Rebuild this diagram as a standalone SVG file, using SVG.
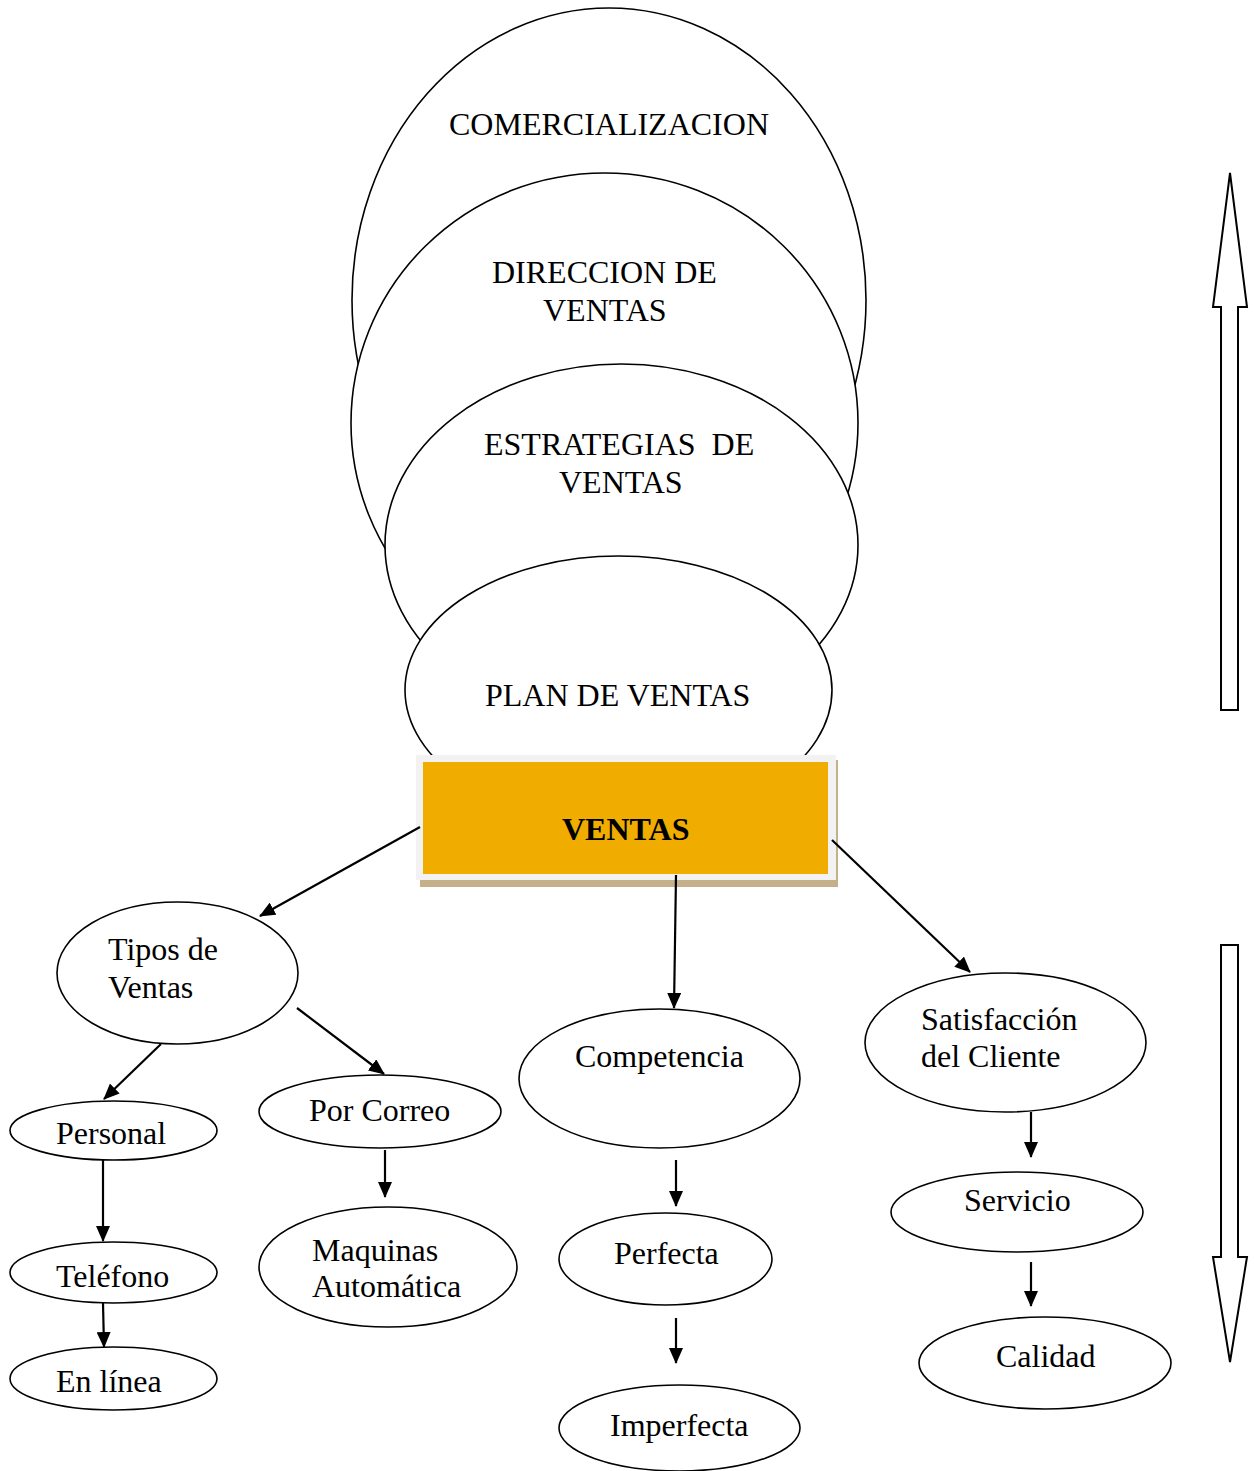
<svg xmlns="http://www.w3.org/2000/svg" width="1254" height="1471" viewBox="0 0 1254 1471">
<style>
.e{fill:#fff;stroke:#000;stroke-width:1.6}
.t{font-family:"Liberation Serif","Times New Roman",serif;font-size:32px;fill:#000}
.u{font-size:32px}
.c{stroke:#000;stroke-width:2.2;fill:none;marker-end:url(#ah)}
.big{fill:#fff;stroke:#000;stroke-width:2}
</style>
<defs>
<marker id="ah" markerUnits="userSpaceOnUse" markerWidth="16" markerHeight="14" refX="15" refY="7" orient="auto">
<path d="M0,0 L16,7 L0,14 Z" fill="#000"/>
</marker>
</defs>
<rect width="1254" height="1471" fill="#fff"/>
<g id="comercializacion">
<ellipse class="e" cx="609" cy="300" rx="257" ry="292"/>
<text class="t u" x="449" y="135">COMERCIALIZACION</text>
</g>
<g id="direccion">
<ellipse class="e" cx="604.5" cy="423" rx="253.5" ry="250"/>
<text class="t u" x="492" y="283">DIRECCION DE</text>
<text class="t u" x="543" y="321">VENTAS</text>
</g>
<g id="estrategias">
<ellipse class="e" cx="621.5" cy="545" rx="236.5" ry="181"/>
<text class="t u" x="484" y="455" xml:space="preserve">ESTRATEGIAS  DE</text>
<text class="t u" x="559" y="493">VENTAS</text>
</g>
<g id="plan">
<ellipse class="e" cx="618.5" cy="690" rx="213.5" ry="134"/>
<text class="t u" x="485" y="706">PLAN DE VENTAS</text>
</g>
<g id="ventas">
<rect x="420" y="760" width="418" height="127" fill="#c4b08a"/>
<rect x="416" y="755" width="420" height="125" fill="#f2f2f2"/>
<rect x="423" y="762" width="405" height="112" fill="#f0ad00"/>
<text class="t" x="562" y="840" font-size="34.5" font-weight="bold">VENTAS</text>
</g>
<g id="connectors">
<line class="c" x1="420" y1="827" x2="260" y2="916"/>
<line class="c" x1="676" y1="875" x2="674" y2="1008"/>
<line class="c" x1="832" y1="840" x2="970" y2="972"/>
<line class="c" x1="161" y1="1044" x2="104" y2="1099"/>
<line class="c" x1="297" y1="1008" x2="384" y2="1074"/>
<line class="c" x1="103" y1="1160" x2="103" y2="1241"/>
<line class="c" x1="103" y1="1303" x2="104" y2="1347"/>
<line class="c" x1="385" y1="1150" x2="385" y2="1197"/>
<line class="c" x1="676" y1="1160" x2="676" y2="1206"/>
<line class="c" x1="676" y1="1318" x2="676" y2="1363"/>
<line class="c" x1="1031" y1="1112" x2="1031" y2="1157"/>
<line class="c" x1="1031" y1="1262" x2="1031" y2="1306"/>
</g>
<g id="tipos">
<ellipse class="e" cx="177.5" cy="973" rx="120.5" ry="71"/>
<text class="t" x="108" y="960">Tipos de</text>
<text class="t" x="108" y="998">Ventas</text>
</g>
<g id="personal">
<ellipse class="e" cx="113.5" cy="1130.5" rx="103.5" ry="29.5"/>
<text class="t" x="56" y="1144">Personal</text>
</g>
<g id="correo">
<ellipse class="e" cx="380" cy="1111.5" rx="121" ry="36.5"/>
<text class="t" x="309" y="1121">Por Correo</text>
</g>
<g id="telefono">
<ellipse class="e" cx="113.5" cy="1272.5" rx="103.5" ry="30.5"/>
<text class="t" x="56" y="1287">Teléfono</text>
</g>
<g id="enlinea">
<ellipse class="e" cx="113.5" cy="1378.5" rx="103.5" ry="31.5"/>
<text class="t" x="56" y="1392">En línea</text>
</g>
<g id="maquinas">
<ellipse class="e" cx="388" cy="1267" rx="129" ry="60"/>
<text class="t" x="312" y="1261">Maquinas</text>
<text class="t" x="312" y="1297">Automática</text>
</g>
<g id="competencia">
<ellipse class="e" cx="659.5" cy="1078.5" rx="140.5" ry="69.5"/>
<text class="t" x="575" y="1067">Competencia</text>
</g>
<g id="perfecta">
<ellipse class="e" cx="665.5" cy="1259" rx="106.5" ry="46"/>
<text class="t" x="614" y="1264">Perfecta</text>
</g>
<g id="imperfecta">
<ellipse class="e" cx="679.5" cy="1428" rx="120.5" ry="43"/>
<text class="t" x="610" y="1436">Imperfecta</text>
</g>
<g id="satisfaccion">
<ellipse class="e" cx="1005.5" cy="1042.5" rx="140.5" ry="69.5"/>
<text class="t" x="921" y="1030">Satisfacción</text>
<text class="t" x="921" y="1067">del Cliente</text>
</g>
<g id="servicio">
<ellipse class="e" cx="1017" cy="1212" rx="126" ry="40"/>
<text class="t" x="964" y="1211">Servicio</text>
</g>
<g id="calidad">
<ellipse class="e" cx="1045" cy="1363" rx="126" ry="46"/>
<text class="t" x="996" y="1367">Calidad</text>
</g>
<g id="flecha-arriba">
<path class="big" d="M1230,173 L1247,307 L1238,307 L1238,710 L1221,710 L1221,307 L1213,307 Z"/>
</g>
<g id="flecha-abajo">
<path class="big" d="M1221,945 L1238,945 L1238,1257 L1247,1257 L1230,1362 L1213,1257 L1221,1257 Z"/>
</g>
</svg>
